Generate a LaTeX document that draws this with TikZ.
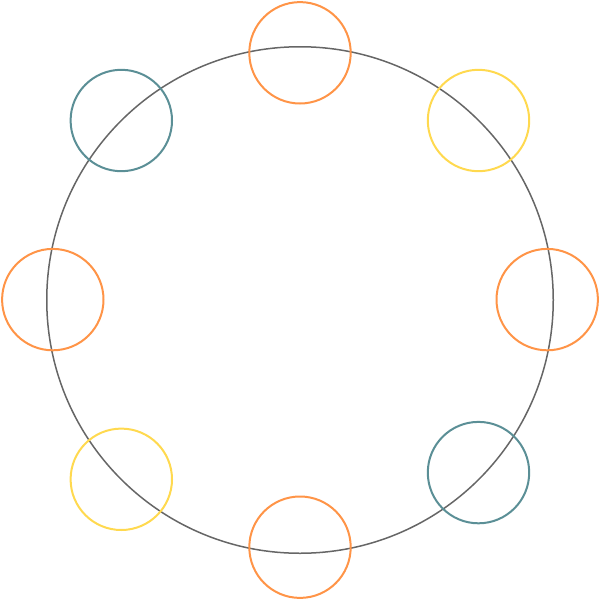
\documentclass[tikz,border=0pt]{standalone}
\definecolor{ringgray}{HTML}{666666}
\definecolor{corange}{HTML}{FF9447}
\definecolor{cteal}{HTML}{5B8F96}
\definecolor{cyellow}{HTML}{FFD94F}
\tikzset{
  bigring/.style={circle, draw=ringgray, line width=1.5pt, minimum size=506.5pt, inner sep=0pt},
  dot/.style={circle, line width=2pt, minimum size=101.4pt, inner sep=0pt, fill=none},
  dotorange/.style={dot, draw=corange},
  dotteal/.style={dot, draw=cteal},
  dotyellow/.style={dot, draw=cyellow}
}
\begin{document}
\begin{tikzpicture}[x=1pt,y=-1pt]
\useasboundingbox (0,0) rectangle (600,600);
\node[bigring] (ring) at (300,300) {};
\node[dotorange] (top) at (300,52.8) {};
\node[dotyellow] (tr) at (478.5,120.5) {};
\node[dotorange] (right) at (547.2,299.6) {};
\node[dotteal] (br) at (478.5,472.6) {};
\node[dotorange] (bottom) at (300,547.2) {};
\node[dotyellow] (bl) at (121.3,479.3) {};
\node[dotorange] (left) at (52.8,299.6) {};
\node[dotteal] (tl) at (121.3,120.5) {};
\end{tikzpicture}
\end{document}
